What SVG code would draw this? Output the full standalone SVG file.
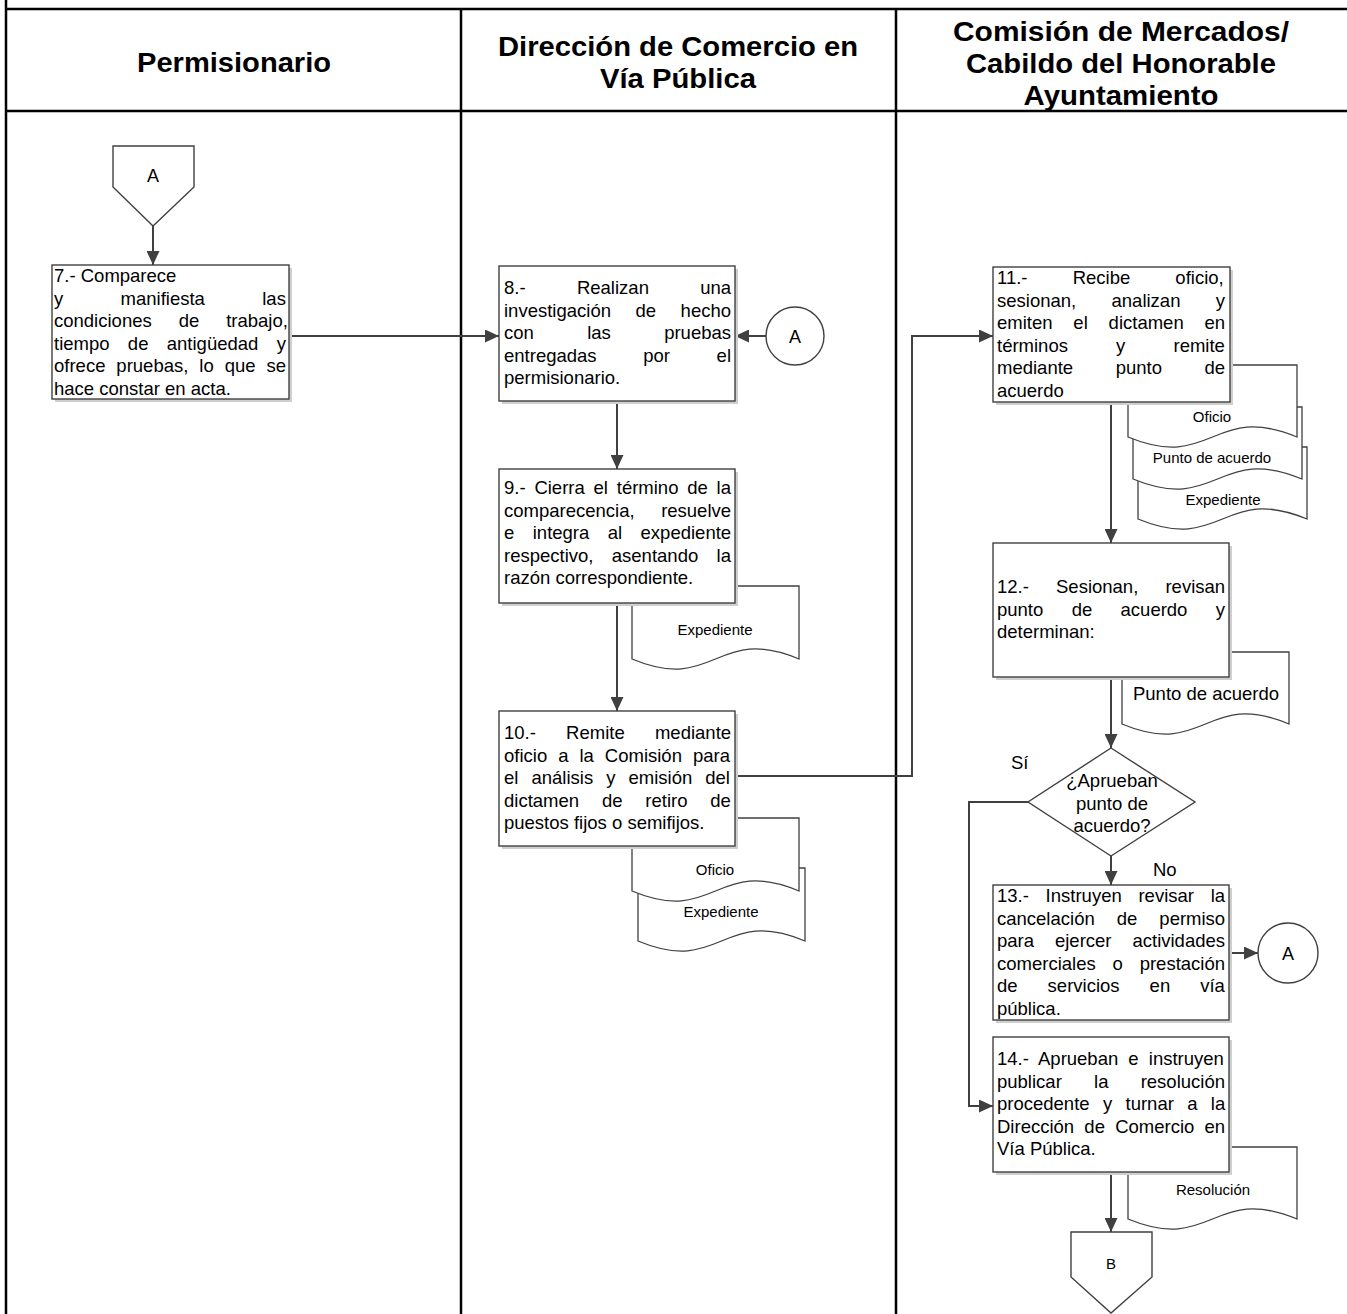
<svg xmlns="http://www.w3.org/2000/svg" width="1347" height="1314" viewBox="0 0 1347 1314">
<style>
.grid{stroke:#000;stroke-width:2.5;fill:none}
.box{fill:#fff;stroke:#404040;stroke-width:1.4}
.shadow{fill:#cfcfcf}
.doc{fill:#fff;stroke:#404040;stroke-width:1.3}
.con{fill:none;stroke:#404040;stroke-width:2}
.t{font-family:"Liberation Sans",Arial,sans-serif;font-size:18.5px;fill:#000}
.s{font-family:"Liberation Sans",Arial,sans-serif;font-size:15px;fill:#000;text-anchor:middle}
.h{font-family:"Liberation Sans",Arial,sans-serif;font-size:27px;font-weight:bold;fill:#000;text-anchor:middle}
.m{text-anchor:middle}
</style>
<defs>
<marker id="arr" markerUnits="userSpaceOnUse" markerWidth="15" markerHeight="13" refX="14" refY="6.5" orient="auto">
<path d="M0,0 L14,6.5 L0,13 Z" fill="#404040"/>
</marker>
</defs>
<rect width="1347" height="1314" fill="#fff"/>
<g id="lanes">
<line class="grid" x1="6" y1="0" x2="6" y2="1314"/>
<line class="grid" x1="6" y1="9" x2="1347" y2="9"/>
<line class="grid" x1="6" y1="111" x2="1347" y2="111"/>
<line class="grid" x1="461" y1="9" x2="461" y2="1314"/>
<line class="grid" x1="896" y1="9" x2="896" y2="1314"/>
<text class="h" x="234" y="72" textLength="194" lengthAdjust="spacingAndGlyphs">Permisionario</text>
<text class="h" x="678" y="56" textLength="360" lengthAdjust="spacingAndGlyphs">Dirección de Comercio en</text>
<text class="h" x="678" y="88" textLength="156" lengthAdjust="spacingAndGlyphs">Vía Pública</text>
<text class="h" x="1121" y="41" textLength="336" lengthAdjust="spacingAndGlyphs">Comisión de Mercados/</text>
<text class="h" x="1121" y="73" textLength="310" lengthAdjust="spacingAndGlyphs">Cabildo del Honorable</text>
<text class="h" x="1121" y="105" textLength="195" lengthAdjust="spacingAndGlyphs">Ayuntamiento</text>
</g>
<g id="connectors">
<line class="con" x1="153" y1="226" x2="153" y2="265" marker-end="url(#arr)"/>
<line class="con" x1="289" y1="336" x2="499" y2="336" marker-end="url(#arr)"/>
<line class="con" x1="766" y1="336" x2="735" y2="336" marker-end="url(#arr)"/>
<line class="con" x1="617" y1="401" x2="617" y2="469" marker-end="url(#arr)"/>
<line class="con" x1="617" y1="603" x2="617" y2="711" marker-end="url(#arr)"/>
<polyline class="con" points="735,776 912,776 912,336 993,336" marker-end="url(#arr)"/>
<line class="con" x1="1111" y1="402" x2="1111" y2="543" marker-end="url(#arr)"/>
<line class="con" x1="1111" y1="677" x2="1111" y2="748" marker-end="url(#arr)"/>
<line class="con" x1="1111" y1="856" x2="1111" y2="885" marker-end="url(#arr)"/>
<polyline class="con" points="1028,802 969,802 969,1106 993,1106" marker-end="url(#arr)"/>
<line class="con" x1="1229" y1="953" x2="1258" y2="953" marker-end="url(#arr)"/>
<line class="con" x1="1111" y1="1172" x2="1111" y2="1232" marker-end="url(#arr)"/>
<text class="t" x="1011" y="769">Sí</text>
<text class="t" x="1153" y="876">No</text>
</g>
<g id="offpageA">
<polygon class="box" points="113,146 194,146 194,187 153,226 113,187"/>
<text class="t m" x="153" y="182" style="font-size:18px">A</text>
</g>
<g id="n7">
<rect class="shadow" x="55" y="268" width="237" height="134"/>
<rect class="box" x="52" y="265" width="237" height="134"/>
<text class="t" x="54" y="282">7.- Comparece</text>
<text class="t" x="54" y="304.5" word-spacing="52.2">y manifiesta las</text>
<text class="t" x="54" y="327" word-spacing="21.8">condiciones de trabajo,</text>
<text class="t" x="54" y="349.5" word-spacing="13.2">tiempo de antigüedad y</text>
<text class="t" x="54" y="372" word-spacing="5.8">ofrece pruebas, lo que se</text>
<text class="t" x="54" y="394.5">hace constar en acta.</text>
</g>
<g id="n8">
<rect class="shadow" x="502" y="269" width="236" height="135"/>
<rect class="box" x="499" y="266" width="236" height="135"/>
<text class="t" x="504" y="294" word-spacing="46.2">8.- Realizan una</text>
<text class="t" x="504" y="316.5" word-spacing="19.4">investigación de hecho</text>
<text class="t" x="504" y="339" word-spacing="48.2">con las pruebas</text>
<text class="t" x="504" y="361.5" word-spacing="41.5">entregadas por el</text>
<text class="t" x="504" y="384">permisionario.</text>
</g>
<g id="connA1">
<circle class="box" cx="795" cy="336" r="29"/>
<text class="t m" x="795" y="342.5" style="font-size:18px">A</text>
</g>
<g id="n9">
<path class="doc" d="M632,586 H799 V659 C715.5,624 715.5,694 632,659 Z"/>
<text class="s" x="715" y="635">Expediente</text>
<rect class="shadow" x="502" y="472" width="236" height="134"/>
<rect class="box" x="499" y="469" width="236" height="134"/>
<text class="t" x="504" y="494" word-spacing="3.66">9.- Cierra el término de la</text>
<text class="t" x="504" y="516.5" word-spacing="21.4">comparecencia, resuelve</text>
<text class="t" x="504" y="539" word-spacing="13.3">e integra al expediente</text>
<text class="t" x="504" y="561.5" word-spacing="13.2">respectivo, asentando la</text>
<text class="t" x="504" y="584">razón correspondiente.</text>
</g>
<g id="n10">
<path class="doc" d="M638,868 H805 V941 C721.5,906 721.5,976 638,941 Z"/>
<text class="s" x="721" y="917">Expediente</text>
<path class="doc" d="M632,818 H799 V891 C715.5,856 715.5,926 632,891 Z"/>
<text class="s" x="715" y="875">Oficio</text>
<rect class="shadow" x="502" y="714" width="236" height="135"/>
<rect class="box" x="499" y="711" width="236" height="135"/>
<text class="t" x="504" y="739" word-spacing="25.1">10.- Remite mediante</text>
<text class="t" x="504" y="761.5" word-spacing="5.85">oficio a la Comisión para</text>
<text class="t" x="504" y="784" word-spacing="7.9">el análisis y emisión del</text>
<text class="t" x="504" y="806.5" word-spacing="17.7">dictamen de retiro de</text>
<text class="t" x="504" y="829">puestos fijos o semifijos.</text>
</g>
<g id="n11">
<path class="doc" d="M1138,447 H1307 V519 C1222.5,484 1222.5,554 1138,519 Z"/>
<text class="s" x="1223" y="505">Expediente</text>
<path class="doc" d="M1133,407 H1302 V479 C1217.5,444 1217.5,514 1133,479 Z"/>
<text class="s" x="1212" y="463">Punto de acuerdo</text>
<path class="doc" d="M1128,365 H1297 V437 C1212.5,402 1212.5,472 1128,437 Z"/>
<text class="s" x="1212" y="422">Oficio</text>
<rect class="shadow" x="996" y="270" width="237" height="135"/>
<rect class="box" x="993" y="267" width="237" height="135"/>
<text class="t" x="997" y="284" word-spacing="40">11.- Recibe oficio,</text>
<text class="t" x="997" y="306.5" word-spacing="30.2">sesionan, analizan y</text>
<text class="t" x="997" y="329" word-spacing="15.7">emiten el dictamen en</text>
<text class="t" x="997" y="351.5" word-spacing="43">términos y remite</text>
<text class="t" x="997" y="374" word-spacing="37.4">mediante punto de</text>
<text class="t" x="997" y="396.5">acuerdo</text>
</g>
<g id="n12">
<path class="doc" d="M1122,652 H1289 V724 C1205.5,689 1205.5,759 1122,724 Z"/>
<text class="t m" x="1206" y="700">Punto de acuerdo</text>
<rect class="shadow" x="996" y="546" width="236" height="134"/>
<rect class="box" x="993" y="543" width="236" height="134"/>
<text class="t" x="997" y="593" word-spacing="22">12.- Sesionan, revisan</text>
<text class="t" x="997" y="615.5" word-spacing="23.2">punto de acuerdo y</text>
<text class="t" x="997" y="638">determinan:</text>
</g>
<g id="decision">
<polygon class="box" points="1111,748 1195,802 1111,856 1028,802"/>
<text class="t m" x="1112" y="787">¿Aprueban</text>
<text class="t m" x="1112" y="809.5">punto de</text>
<text class="t m" x="1112" y="832">acuerdo?</text>
</g>
<g id="n13">
<rect class="shadow" x="996" y="888" width="236" height="135"/>
<rect class="box" x="993" y="885" width="236" height="135"/>
<text class="t" x="997" y="902" word-spacing="11.6">13.- Instruyen revisar la</text>
<text class="t" x="997" y="924.5" word-spacing="16.9">cancelación de permiso</text>
<text class="t" x="997" y="947" word-spacing="15.8">para ejercer actividades</text>
<text class="t" x="997" y="969.5" word-spacing="11.7">comerciales o prestación</text>
<text class="t" x="997" y="992" word-spacing="24.9">de servicios en vía</text>
<text class="t" x="997" y="1014.5">pública.</text>
</g>
<g id="connA2">
<circle class="box" cx="1288" cy="953" r="30"/>
<text class="t m" x="1288" y="959.5" style="font-size:18px">A</text>
</g>
<g id="n14">
<path class="doc" d="M1128,1147 H1297 V1219 C1212.5,1184 1212.5,1254 1128,1219 Z"/>
<text class="s" x="1213" y="1195">Resolución</text>
<rect class="shadow" x="996" y="1040" width="236" height="135"/>
<rect class="box" x="993" y="1037" width="236" height="135"/>
<text class="t" x="997" y="1065" word-spacing="5">14.- Aprueban e instruyen</text>
<text class="t" x="997" y="1087.5" word-spacing="27.1">publicar la resolución</text>
<text class="t" x="997" y="1110" word-spacing="8.2">procedente y turnar a la</text>
<text class="t" x="997" y="1132.5" word-spacing="5.1">Dirección de Comercio en</text>
<text class="t" x="997" y="1155">Vía Pública.</text>
</g>
<g id="offpageB">
<polygon class="box" points="1071,1232 1152,1232 1152,1277 1111,1313 1071,1277"/>
<text class="s" x="1111" y="1269">B</text>
</g>
</svg>
